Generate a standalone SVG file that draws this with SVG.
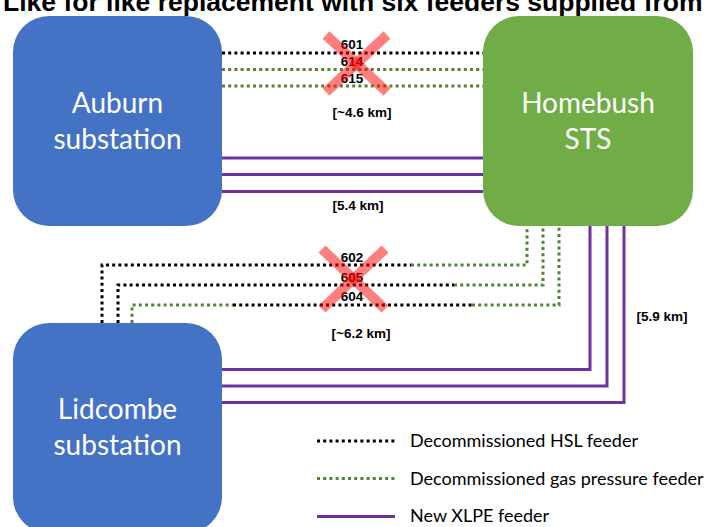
<svg xmlns="http://www.w3.org/2000/svg" width="712" height="527" viewBox="0 0 712 527">
  <style>
    .title { font-family: "Liberation Sans", Arial, sans-serif; font-weight: bold; font-size: 26.5px; fill: #000; }
    .node-label { font-family: Lato, "Open Sans", sans-serif; font-size: 28px; fill: #fff; text-anchor: middle; }
    .lbl { font-family: "Liberation Sans", Arial, sans-serif; font-weight: bold; font-size: 13.5px; fill: #000; text-anchor: middle; }
    .legend { font-family: Lato, "Open Sans", sans-serif; font-size: 18px; fill: #000; }
    .hsl { fill: none; stroke: #000; stroke-width: 3; stroke-dasharray: 3 3.2; }
    .gas { fill: none; stroke: #548235; stroke-width: 3; stroke-dasharray: 3 3.2; }
    .xlpe { fill: none; stroke: #7030A0; stroke-width: 3; }
    .cross { stroke: #ff0000; stroke-opacity: 0.5; stroke-width: 10; stroke-linecap: butt; }
  </style>

  <text class="title" x="3" y="10.5">Like for like replacement with six feeders supplied from</text>

  <g id="connectors">
    <!-- Auburn - Homebush decommissioned -->
    <path class="hsl" d="M222,53 H483"/>
    <path class="gas" d="M222,69.5 H483"/>
    <path class="gas" d="M222,86 H483"/>
    <!-- Auburn - Homebush new XLPE -->
    <path class="xlpe" d="M222,158 H483"/>
    <path class="xlpe" d="M222,174.5 H483"/>
    <path class="xlpe" d="M222,191.5 H483"/>
    <!-- Lidcombe - Homebush decommissioned -->
    <path class="hsl" d="M102,323 V265 H411"/>
    <path class="gas" d="M411,265 H527 V226"/>
    <path class="hsl" d="M118,323 V285 H454"/>
    <path class="gas" d="M454,285 H543 V226"/>
    <path class="gas" d="M132,323 V305 H233"/>
    <path class="hsl" d="M233,305 H472"/>
    <path class="gas" d="M472,305 H559 V226"/>
    <!-- Lidcombe - Homebush new XLPE -->
    <path class="xlpe" d="M590,226 V369.5 H222"/>
    <path class="xlpe" d="M607,226 V386 H222"/>
    <path class="xlpe" d="M624,226 V402.5 H222"/>
  </g>

  <g id="labels-top">
    <text class="lbl" x="352" y="49">601</text>
    <text class="lbl" x="352" y="66">614</text>
    <text class="lbl" x="352" y="82.5">615</text>
    <text class="lbl" x="362" y="116.5">[~4.6 km]</text>
    <text class="lbl" x="358" y="210">[5.4 km]</text>
  </g>
  <g id="labels-bottom">
    <text class="lbl" x="352" y="261.5">602</text>
    <text class="lbl" x="352" y="281.5">605</text>
    <text class="lbl" x="352" y="301">604</text>
    <text class="lbl" x="361" y="338">[~6.2 km]</text>
    <text class="lbl" x="662" y="320.5">[5.9 km]</text>
  </g>

  <g id="cross-top">
    <line class="cross" x1="326" y1="35" x2="387" y2="92"/>
    <line class="cross" x1="387" y1="35" x2="326" y2="92"/>
  </g>
  <g id="cross-bottom">
    <line class="cross" x1="322" y1="249" x2="385" y2="309"/>
    <line class="cross" x1="385" y1="249" x2="322" y2="309"/>
  </g>

  <g id="auburn">
    <rect x="13" y="16" width="209" height="210" rx="36" fill="#4472C4"/>
    <text class="node-label" x="117.5" y="112.5">Auburn</text>
    <text class="node-label" x="117.5" y="148.5">substation</text>
  </g>
  <g id="homebush">
    <rect x="483" y="16" width="210" height="210" rx="36" fill="#70AD47"/>
    <text class="node-label" x="588" y="112.5">Homebush</text>
    <text class="node-label" x="588" y="148.5">STS</text>
  </g>
  <g id="lidcombe">
    <rect x="13" y="323" width="209" height="210" rx="36" fill="#4472C4"/>
    <text class="node-label" x="117.5" y="419">Lidcombe</text>
    <text class="node-label" x="117.5" y="455">substation</text>
  </g>

  <g id="legend">
    <path class="hsl" d="M317,441 H395"/>
    <text class="legend" x="410" y="446.5">Decommissioned HSL feeder</text>
    <path class="gas" d="M317,478.5 H395"/>
    <text class="legend" x="410" y="484.5">Decommissioned gas pressure feeder</text>
    <path class="xlpe" d="M317,516.5 H395"/>
    <text class="legend" x="410" y="522">New XLPE feeder</text>
  </g>
</svg>
